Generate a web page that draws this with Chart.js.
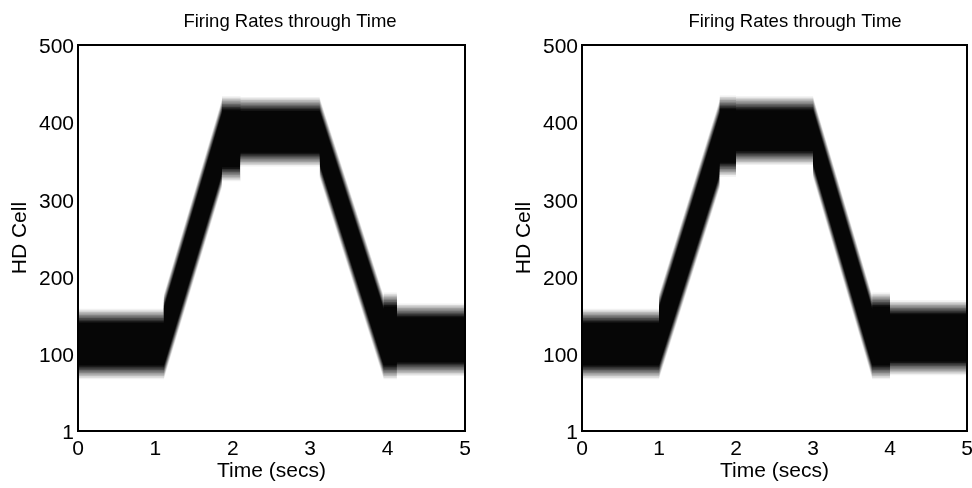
<!DOCTYPE html>
<html><head><meta charset="utf-8">
<script src="https://cdn.jsdelivr.net/npm/chart.js@4.4.1/dist/chart.umd.min.js"></script>
<style>
html,body{margin:0;padding:0;background:#fff;overflow:hidden;}
#wrap{position:relative;width:972px;height:488px;overflow:hidden;background:#fff;}
canvas{position:absolute;top:0;}
</style></head><body>
<div id="wrap">
<canvas id="c1" width="580" height="488" style="left:0px"></canvas>
<canvas id="c2" width="582" height="488" style="left:504px"></canvas>
</div>
<script>
// ---- text ----
const titleText = 'Firing Rates through Time';
const xTitle = 'Time (secs)';
const yTitle = 'HD Cell';
const xTicks = [0, 1, 2, 3, 4, 5];
const yTicks = [1, 100, 200, 300, 400, 500];

// ---- left panel: dark core of the activity band (HD cell index) at time breakpoints (s) ----
const leftTimes    = [0, 1.11, 1.11, 1.86, 1.86, 2.10, 2.10, 3.12, 3.12, 3.95, 3.95, 4.12, 4.12, 5];
const leftCoreLow  = [86, 86, 86, 334, 342, 342, 361, 361, 347, 86, 86, 86, 90, 90];
const leftCoreHigh = [141, 141, 160, 412, 416, 416, 415, 415, 415, 158, 162, 162, 148, 148];

// ---- right panel ----
const rightTimes    = [0, 1.00, 1.00, 1.79, 1.79, 2.00, 2.00, 3.00, 3.00, 3.77, 3.77, 4.00, 4.00, 5];
const rightCoreLow  = [86, 86, 86, 334, 348, 348, 363, 363, 347, 86, 86, 86, 91, 91];
const rightCoreHigh = [141, 141, 160, 412, 417, 417, 416, 416, 416, 158, 162, 162, 152, 152];

Chart.defaults.font.family = "'Liberation Sans', Arial, Helvetica, sans-serif";
Chart.defaults.color = '#000';

function buildDatasets(times, low, high) {
  const N = 9, FADE = 18;            // soft edge of the band (style)
  const ds = [];
  const shade = k => {
    const s = (k - 0.5) / N;
    const d = 1 - s;
    const g = Math.round(255 - d * 249);
    return 'rgb(' + g + ',' + g + ',' + g + ')';
  };
  const layer = (vals, color) => ds.push({
    data: times.map((t, i) => ({x: t, y: vals[i]})),
    backgroundColor: color, borderColor: 'rgba(0,0,0,0)', borderWidth: 0,
    pointRadius: 0, pointHoverRadius: 0, fill: 'start', tension: 0
  });
  for (let k = N; k >= 1; k--) layer(high.map(v => v + FADE * k / N), shade(k));
  layer(high, '#060606');
  for (let k = 1; k <= N; k++) layer(low.map(v => v - FADE * (k - 1) / N), shade(k));
  layer(low.map(v => v - FADE), '#ffffff');
  const L = ds.length;
  ds.forEach((d, i) => { d.order = L - i; });
  return ds;
}

function makeChart(id, times, low, high, rightGap) {
  const frame = {display: true, color: '#000', width: 2, z: 2};
  return new Chart(document.getElementById(id), {
    type: 'line',
    data: {datasets: buildDatasets(times, low, high)},
    options: {
      responsive: false, animation: false, events: [],
      layout: {padding: 0},
      plugins: {
        legend: {display: false}, tooltip: {enabled: false},
        title: {display: true, text: titleText, color: '#000',
                font: {size: 18.5, weight: 'normal'}, padding: {top: 11, bottom: 12}}
      },
      scales: {
        x: {type: 'linear', min: 0, max: 5,
            afterBuildTicks: s => { s.ticks = xTicks.map(v => ({value: v})); },
            afterFit: s => { s.height = 57; },
            grid: {display: false, drawTicks: false},
            border: frame,
            ticks: {font: {size: 21}, padding: 6, maxRotation: 0},
            title: {display: true, text: xTitle, font: {size: 21}, padding: {top: 0, bottom: 4}}},
        y: {type: 'linear', min: 1, max: 500,
            afterBuildTicks: s => { s.ticks = yTicks.map(v => ({value: v})); },
            afterFit: s => { s.width = 78; },
            grid: {display: false, drawTicks: false},
            border: frame,
            ticks: {font: {size: 21}, padding: 4, labelOffset: 2},
            title: {display: true, text: yTitle, font: {size: 21}, padding: {top: 8, bottom: 0}}},
        xTop: {type: 'linear', position: 'top', min: 0, max: 5,
               grid: {display: false, drawTicks: false}, ticks: {display: false}, border: frame},
        yRight: {type: 'linear', position: 'right', min: 1, max: 500,
                 afterFit: s => { s.width = rightGap; },
                 grid: {display: false, drawTicks: false}, ticks: {display: false}, border: frame}
      }
    }
  });
}

makeChart('c1', leftTimes, leftCoreLow, leftCoreHigh, 115);
makeChart('c2', rightTimes, rightCoreLow, rightCoreHigh, 119);
</script>
</body></html>
